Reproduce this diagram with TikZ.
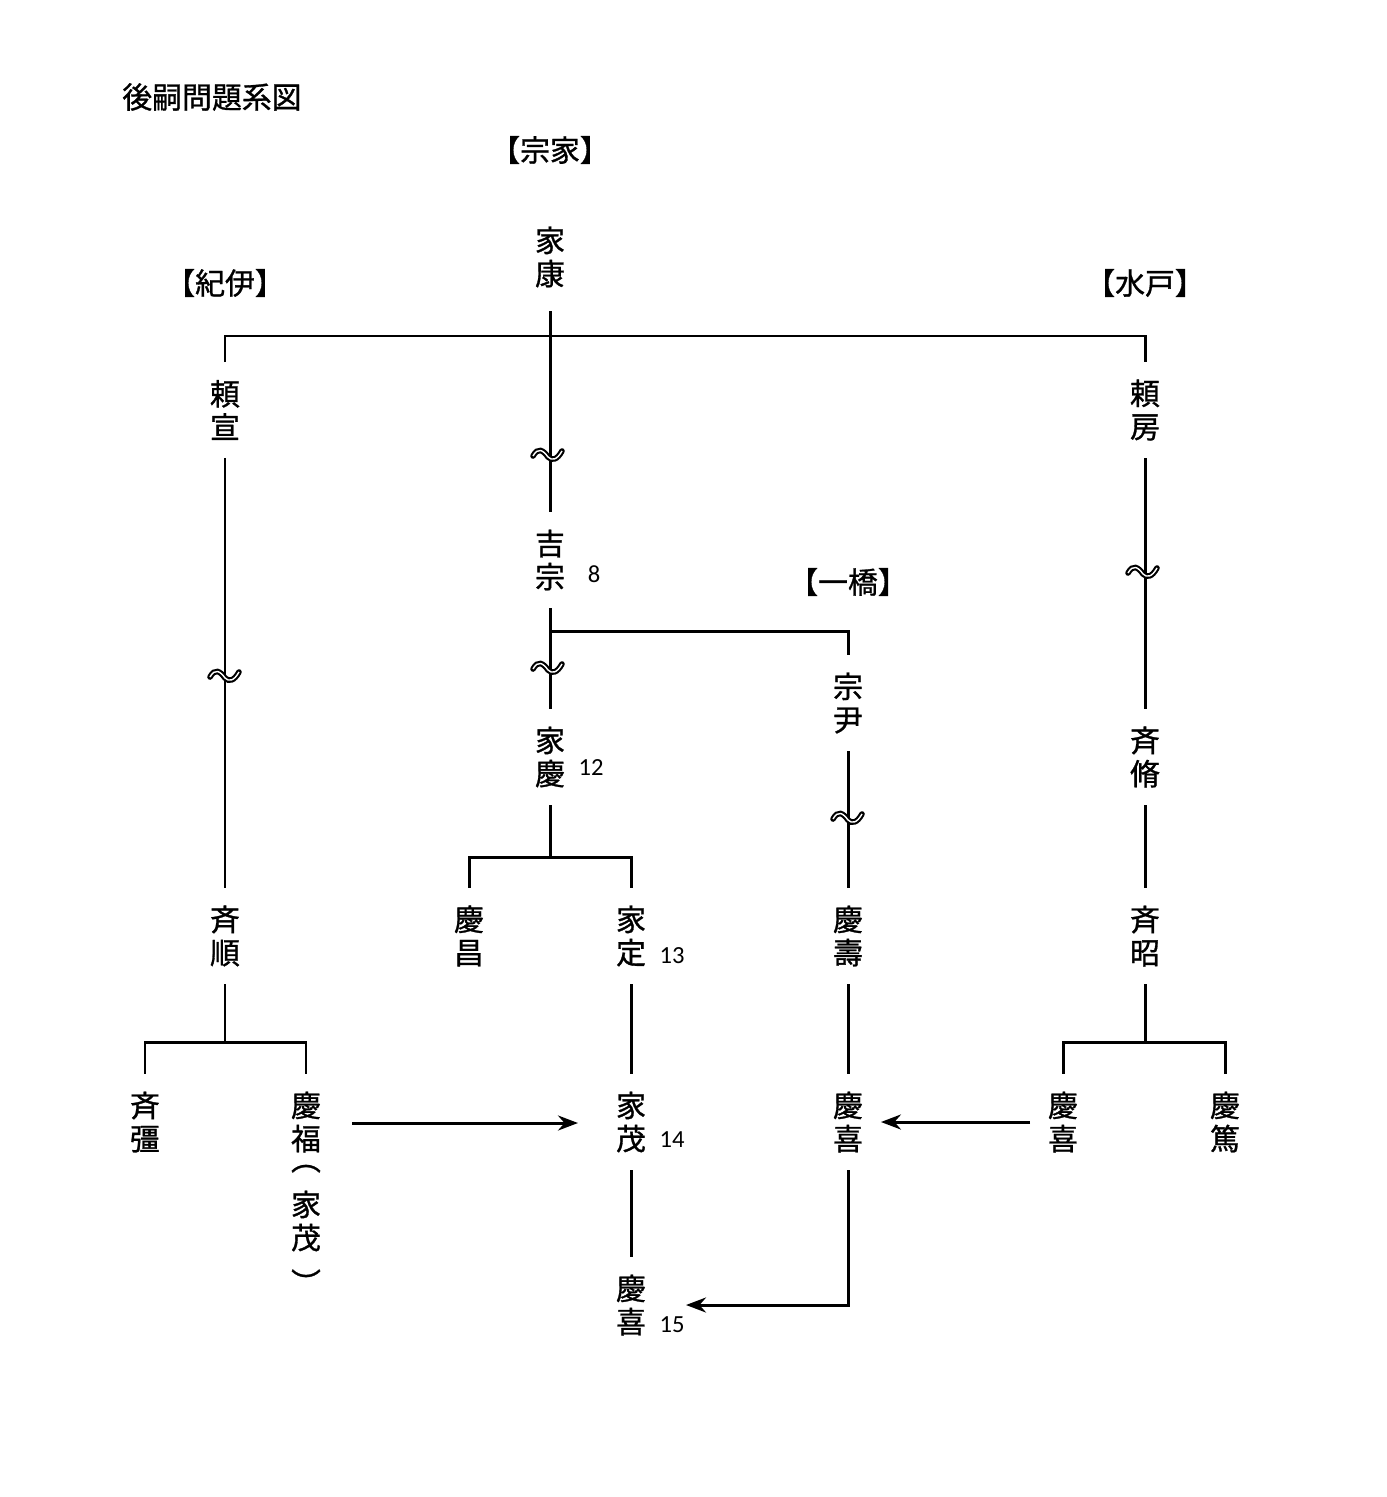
\documentclass[tikz,border=0pt]{standalone}
\usepackage{fontspec}
\setmainfont{Noto Sans CJK JP}[FakeBold=1]
\newfontfamily\numfont{Carlito}
\usetikzlibrary{arrows.meta}
\tikzset{
  x=0.02cm, y=-0.02cm,
  person/.style={font=\fontsize{17}{18.9}\selectfont, align=center, inner sep=0pt, outer sep=0.36cm},
  lbl/.style={font=\fontsize{17}{18.9}\selectfont, inner sep=0pt},
  paren/.style={font=\fontsize{17}{18.9}\selectfont, inner sep=0pt, rotate=-90},
  num/.style={font=\numfont\fontsize{14}{16}\selectfont, inner sep=0pt},
  ln/.style={line width=1.7pt},
  arr/.style={line width=1.7pt, -{Stealth[length=0.4cm, width=0.3cm]}},
  wave/.pic={
    \draw[line width=3.2pt, line cap=round] (-15,1) .. controls (-10,-8) and (-5,-5) .. (0,2) .. controls (4,6) and (9,5) .. (14,-4);
    \draw[white, line width=0.8pt] (-15,1) .. controls (-10,-8) and (-5,-5) .. (0,2) .. controls (4,6) and (9,5) .. (14,-4);
  }
}
\begin{document}
\begin{tikzpicture}
\useasboundingbox (0,0) rectangle (1386,1497);
\fill[white] (0,0) rectangle (1386,1497);

% titles and house labels
\node[lbl, anchor=west] (title) at (122,97) {後嗣問題系図};
\node[lbl] (soke) at (550,150) {【宗家】};
\node[lbl] (kii) at (225,283) {【紀伊】};
\node[lbl] (mito) at (1145,283) {【水戸】};
\node[lbl] (hitotsubashi) at (848,582) {【一橋】};

% persons
\node[person] (ieyasu) at (550,257) {家\\康};
\node[person] (yorinobu) at (225,410) {頼\\宣};
\node[person] (yorifusa) at (1145,410) {頼\\房};
\node[person] (yoshimune) at (550,560) {吉\\宗};
\node[num] (n8) at (594,574) {8};
\node[person] (munetada) at (848,703) {宗\\尹};
\node[person] (ieyoshi) at (550,757) {家\\慶};
\node[num] (n12) at (591,768) {12};
\node[person] (narinobu) at (1145,757) {斉\\脩};
\node[person] (narimasa) at (225,936) {斉\\順};
\node[person] (keisho) at (469,936) {慶\\昌};
\node[person] (iesada) at (631,936) {家\\定};
\node[num] (n13) at (672,956) {13};
\node[person] (yoshihisa) at (848,936) {慶\\壽};
\node[person] (nariaki) at (1145,936) {斉\\昭};
\node[person] (narikata) at (145,1122) {斉\\彊};
\node[person] (yoshitomi) at (306,1122) {慶\\福};
\node[paren] (po) at (306,1159) {（};
\node[person] (iemochiB) at (306,1221) {家\\茂};
\node[paren] (pc) at (306,1283) {）};
\node[person] (iemochi) at (631,1122) {家\\茂};
\node[num] (n14) at (672,1140) {14};
\node[person] (yoshinobuH) at (848,1122) {慶\\喜};
\node[person] (yoshinobuM) at (1063,1122) {慶\\喜};
\node[person] (yoshiatsu) at (1225,1122) {慶\\篤};
\node[person] (yoshinobu) at (631,1305) {慶\\喜};
\node[num] (n15) at (672,1325) {15};

% junction coordinates
\coordinate (t1) at (225,336);
\coordinate (t2) at (1145,336);
\coordinate (h1) at (550,631);
\coordinate (h2) at (848,631);
\coordinate (k1) at (550,857);
\coordinate (k0) at (469,857);
\coordinate (k2) at (631,857);
\coordinate (s1) at (225,1042);
\coordinate (s0) at (145,1042);
\coordinate (s2) at (306,1042);
\coordinate (m1) at (1145,1042);
\coordinate (m0) at (1063,1042);
\coordinate (m2) at (1225,1042);
\coordinate (c15) at (848,1305);
\coordinate (e15) at (686,1305);
\coordinate (f0) at (352,1123);
\coordinate (f1) at (578,1123);

% lines
\draw[ln] (yorinobu.north) -- (t1) -- (t2) -- (yorifusa.north);
\draw[ln] ([yshift=-0.12cm]ieyasu.south) -- (yoshimune.north);
\draw[ln] (yoshimune.south) -- (ieyoshi.north);
\draw[ln] (h1) -- (h2) -- (munetada.north);
\draw[ln] (munetada.south) -- (yoshihisa.north);
\draw[ln] (yorinobu.south) -- (narimasa.north);
\draw[ln] (yorifusa.south) -- (narinobu.north);
\draw[ln] (narinobu.south) -- (nariaki.north);
\draw[ln] (ieyoshi.south) -- (k1);
\draw[ln] (keisho.north) -- (k0) -- (k2) -- (iesada.north);
\draw[ln] (iesada.south) -- (iemochi.north);
\draw[ln] (iemochi.south) -- (yoshinobu.north);
\draw[ln] (yoshihisa.south) -- (yoshinobuH.north);
\draw[ln] (narimasa.south) -- (s1);
\draw[ln] (narikata.north) -- (s0) -- (s2) -- (yoshitomi.north);
\draw[ln] (nariaki.south) -- (m1);
\draw[ln] (yoshinobuM.north) -- (m0) -- (m2) -- (yoshiatsu.north);

% arrows
\draw[arr] (yoshinobuM.west) -- (yoshinobuH.east);
\draw[arr] (f0) -- (f1);
\draw[arr] (yoshinobuH.south) -- (c15) -- (e15);

% wave marks
\pic at (548,455) {wave};
\pic at (548,668) {wave};
\pic at (225,676) {wave};
\pic at (1143,572) {wave};
\pic at (848,818) {wave};
\end{tikzpicture}
\end{document}
